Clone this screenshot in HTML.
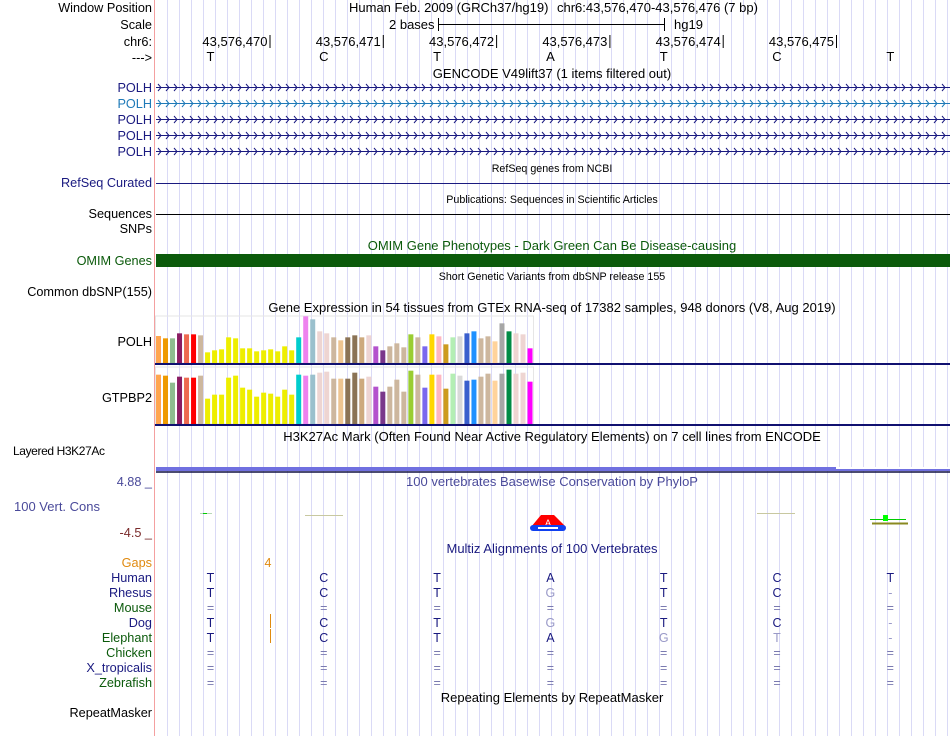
<!DOCTYPE html>
<html><head><meta charset="utf-8"><style>
html,body{margin:0;padding:0;background:#fff;width:950px;height:736px;overflow:hidden}
svg{display:block;font-family:"Liberation Sans",Arial,sans-serif}
</style></head><body>
<svg id="main" width="950" height="736" viewBox="0 0 950 736">
<g id="guides"></g>
<line x1="154.5" y1="0" x2="154.5" y2="736" stroke="#f4a0a0" stroke-width="1"/>
<g font-size="12.7" text-anchor="end">
<text x="152" y="12" fill="#000">Window Position</text>
<text x="152" y="29" fill="#000">Scale</text>
<text x="152" y="46" fill="#000">chr6:</text>
<text x="152" y="62" fill="#000">---&gt;</text>
<text x="152" y="92" fill="#1a1a80">POLH</text>
<text x="152" y="108" fill="#1f7ab8">POLH</text>
<text x="152" y="124" fill="#1a1a80">POLH</text>
<text x="152" y="140" fill="#1a1a80">POLH</text>
<text x="152" y="156" fill="#1a1a80">POLH</text>
<text x="152" y="187" fill="#1a1a80">RefSeq Curated</text>
<text x="152" y="218" fill="#000">Sequences</text>
<text x="152" y="233" fill="#000">SNPs</text>
<text x="152" y="265" fill="#0b5a0b">OMIM Genes</text>
<text x="152" y="296" fill="#000">Common dbSNP(155)</text>
<text x="152" y="346" fill="#000">POLH</text>
<text x="152" y="402" fill="#000">GTPBP2</text>
<text x="105" y="455" fill="#000" font-size="12" textLength="92">Layered H3K27Ac</text>
<text x="152" y="486" fill="#4a4a9a">4.88 _</text>
<text x="100" y="511" fill="#4a4a9a" font-size="13">100 Vert. Cons</text>
<text x="152" y="537" fill="#7a2a2a">-4.5 _</text>
<text x="152" y="567" fill="#e08a10">Gaps</text>
<text x="152" y="582" fill="#1a1a80">Human</text>
<text x="152" y="597" fill="#1a1a80">Rhesus</text>
<text x="152" y="612" fill="#0b5a0b">Mouse</text>
<text x="152" y="627" fill="#1a1a80">Dog</text>
<text x="152" y="642" fill="#0b5a0b">Elephant</text>
<text x="152" y="657" fill="#0b5a0b">Chicken</text>
<text x="152" y="672" fill="#1a1a80">X_tropicalis</text>
<text x="152" y="687" fill="#0b5a0b">Zebrafish</text>
<text x="152" y="717" fill="#000">RepeatMasker</text>
</g>
<g font-size="13" fill="#000">
<text x="349" y="12">Human Feb. 2009 (GRCh37/hg19)</text>
<text x="557" y="12">chr6:43,576,470-43,576,476 (7 bp)</text>
<text x="389" y="29">2 bases</text>
<line x1="438" y1="24.5" x2="665" y2="24.5" stroke="#000"/>
<line x1="438.5" y1="18" x2="438.5" y2="31" stroke="#000"/>
<line x1="664.5" y1="18" x2="664.5" y2="31" stroke="#000"/>
<text x="674" y="29">hg19</text>
</g>
<g id="coords" font-size="13"></g>
<g font-size="13" text-anchor="middle" fill="#000">
<text x="552" y="78">GENCODE V49lift37 (1 items filtered out)</text>
<text x="552" y="172" font-size="10.7">RefSeq genes from NCBI</text>
<text x="552" y="203" font-size="10.7">Publications: Sequences in Scientific Articles</text>
<text x="552" y="250" fill="#0b5a0b">OMIM Gene Phenotypes - Dark Green Can Be Disease-causing</text>
<text x="552" y="280" font-size="10.7">Short Genetic Variants from dbSNP release 155</text>
<text x="552" y="312">Gene Expression in 54 tissues from GTEx RNA-seq of 17382 samples, 948 donors (V8, Aug 2019)</text>
<text x="552" y="441">H3K27Ac Mark (Often Found Near Active Regulatory Elements) on 7 cell lines from ENCODE</text>
<text x="552" y="486" fill="#4a4a9a">100 vertebrates Basewise Conservation by PhyloP</text>
<text x="552" y="553" fill="#1a1a80">Multiz Alignments of 100 Vertebrates</text>
<text x="552" y="702">Repeating Elements by RepeatMasker</text>
</g>
<g id="genes"></g>
<line x1="156" y1="183.5" x2="950" y2="183.5" stroke="#1a1a80"/>
<line x1="156" y1="214.5" x2="950" y2="214.5" stroke="#000"/>
<rect x="156" y="254" width="794" height="13" fill="#0b5a0b"/>
<g id="gtex"></g>
<rect x="156" y="467" width="794" height="4" fill="#7070e0"/>
<rect x="836" y="467" width="114" height="2" fill="#fff"/>
<line x1="156" y1="472" x2="950" y2="472" stroke="#101040" stroke-width="1.5"/>
<g>
<line x1="200" y1="513.5" x2="212" y2="513.5" stroke="#b8d8b8"/><rect x="203" y="513" width="4" height="1" fill="#0c0"/>
<line x1="305" y1="515.5" x2="343" y2="515.5" stroke="#c8c8a0"/>
<line x1="757" y1="513.5" x2="795" y2="513.5" stroke="#c8c8a0"/>
<line x1="870" y1="519.5" x2="906" y2="519.5" stroke="#0c0"/><rect x="883" y="515" width="5" height="6" fill="#0f0"/>
<line x1="872" y1="523.5" x2="908" y2="523.5" stroke="#8a8a20" stroke-width="2"/>
<path d="M531 527 L541 515 L554 515 L566 527 Z" fill="#f00"/><text x="548" y="526" font-size="9" fill="#fff" text-anchor="middle">A</text>
<rect x="530" y="525" width="36" height="6" rx="3" fill="#1040f0"/><rect x="538" y="527" width="20" height="2" fill="#fff"/>
</g>
<g id="align" font-size="12.5" text-anchor="middle">
<text x="268" y="567" fill="#e08a10">4</text>
<line x1="270.5" y1="614" x2="270.5" y2="628" stroke="#e08a10"/><line x1="270.5" y1="629" x2="270.5" y2="643" stroke="#e08a10"/>
</g>
<script>
var NS='http://www.w3.org/2000/svg';
function mk(t,a,p){var e=document.createElementNS(NS,t);for(var k in a)e.setAttribute(k,a[k]);p.appendChild(e);return e;}
var g=document.getElementById('guides');
for(var x=167.3;x<950;x+=11.99){mk('line',{x1:Math.round(x)+0.5,y1:0,x2:Math.round(x)+0.5,y2:736,stroke:'#dadaf6'},g);}
var coordLabels=['43,576,470','43,576,471','43,576,472','43,576,473','43,576,474','43,576,475'];
var bases=['T','C','T','A','T','C','T'];
var cg=document.getElementById('coords');
function bx(i){return 210.5+i*113.3;}
coordLabels.forEach(function(l,i){var tx=bx(i)+59;var t=mk('text',{x:tx-2,y:46,'text-anchor':'end'},cg);t.textContent=l;mk('line',{x1:tx+0.5,y1:35,x2:tx+0.5,y2:48,stroke:'#000'},cg);});
bases.forEach(function(b,i){var t=mk('text',{x:bx(i),y:61,'text-anchor':'middle'},cg);t.textContent=b;});
var gg=document.getElementById('genes');
var gys=[87,103,119,135,151],gcol=['#1a1a80','#1f7ab8','#1a1a80','#1a1a80','#1a1a80'];
gys.forEach(function(y,j){mk('line',{x1:156,y1:y+0.5,x2:950,y2:y+0.5,stroke:gcol[j]},gg);var d='';for(var x=158;x<948;x+=8){d+='M'+x+' '+(y-3)+' L'+(x+3)+' '+(y+0.5)+' L'+x+' '+(y+4)+' ';}mk('path',{d:d,stroke:gcol[j],fill:'none','stroke-width':1},gg);});
var tissueColors=['#FFA54F','#EE9A00','#8FBC8F','#8B1C62','#EE6A50','#FF0000','#CDB79E','#EEEE00','#EEEE00','#EEEE00','#EEEE00','#EEEE00','#EEEE00','#EEEE00','#EEEE00','#EEEE00','#EEEE00','#EEEE00','#EEEE00','#EEEE00','#00CDCD','#EE82EE','#9AC0CD','#EED5D2','#EED5D2','#CDB79E','#EEC591','#8B7355','#8B7355','#CDAA7D','#EED5D2','#B452CD','#7A378B','#CDB79E','#CDB79E','#CDB79E','#9ACD32','#CDB79E','#7A67EE','#FFD700','#FFB6C1','#CD9B1D','#B4EEB4','#D9D9D9','#3A5FCD','#1E90FF','#CDB79E','#CDB79E','#FFD39B','#A6A6A6','#008B45','#EED5D2','#EED5D2','#FF00FF'];
var polhValues=[81,74,74,89,86,86,83,32,38,41,77,74,44,44,35,38,41,35,50,38,77,140,131,95,89,77,68,77,83,77,83,50,38,50,59,47,86,77,50,86,80,56,77,80,89,95,74,80,65,119,95,89,86,44];
var gtpbp2Values=[148,145,124,142,139,139,145,76,88,88,139,145,109,103,82,94,91,82,103,88,148,145,148,154,157,136,136,136,154,136,142,112,97,112,133,97,160,148,109,148,148,106,151,145,130,133,142,151,130,151,163,151,154,127];
var gt=document.getElementById('gtex');
function xBar(i){return 156+i*7.01;}
function hBar(v){return v/3;}
function panel(vals,top,base,name){
 var fr=mk('rect',{x:155.5,y:top,width:378,height:base-top,fill:'none',stroke:'#e6e6e6'},gt);
 
 
 vals.forEach(function(v,i){var r=mk('rect',{x:xBar(i),y:base-hBar(v),width:5,height:hBar(v),fill:tissueColors[i]},gt);
 
 });
 var l=mk('rect',{x:155,y:base,width:795,height:2,fill:'#101070'},gt);
 
 
}
panel(polhValues,316,363,'gtex-polh');
panel(gtpbp2Values,367,424,'gtex-gtpbp2');
var species=[['T','C','T','A','T','C','T'],['T','C','T','G','T','C','-'],['=','=','=','=','=','=','='],['T','C','T','G','T','C','-'],['T','C','T','A','G','T','-'],['=','=','=','=','=','=','='],['=','=','=','=','=','=','='],['=','=','=','=','=','=','=']];
var ag=document.getElementById('align');
species.forEach(function(row,r){row.forEach(function(c,i){var dim=(r>0&&c!==species[0][i]&&c!=='=');var col=(r===0||(!dim&&c!=='='))?'#1a1a80':(c==='='?'#7a7ab0':'#9a9ac8');var t=mk('text',{x:bx(i),y:582+r*15,fill:col},ag);t.textContent=c;});});
</script>
</svg>
</body></html>
